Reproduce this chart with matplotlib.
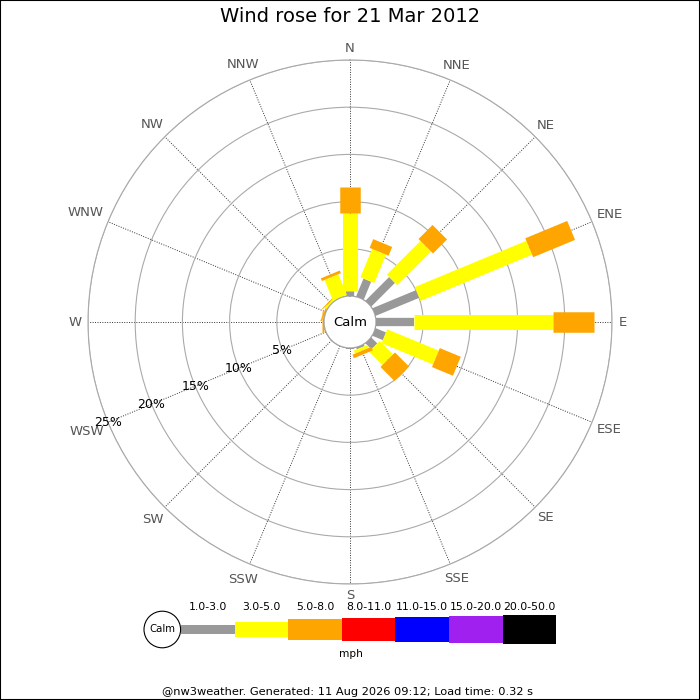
import numpy as np
import matplotlib.pyplot as plt
from matplotlib.patches import Circle, Rectangle

# wind direction sectors
directions = ['N', 'NNE', 'NE', 'ENE', 'E', 'ESE', 'SE', 'SSE',
              'S', 'SSW', 'SW', 'WSW', 'W', 'WNW', 'NW', 'NNW']

# % of time in each speed band (mph), per direction
speed_1_3 = [0.55, 2.05, 3.55, 5.0, 4.0, 1.2, 0.9, 0.2, 0.1, 0, 0, 0, 0, 0, 0, 0]
speed_3_5 = [8.25, 3.25, 5.05, 12.8, 14.7, 5.9, 2.0, 0.35, 0, 0, 0, 0, 0.05, 0.05, 0.25, 2.4]
speed_5_8 = [2.7, 1.0, 2.1, 4.8, 4.4, 2.4, 2.1, 0.4, 0, 0, 0, 0, 0.15, 0.15, 0.1, 0.3]

band_labels = ['1.0-3.0', '3.0-5.0', '5.0-8.0', '8.0-11.0', '11.0-15.0', '15.0-20.0', '20.0-50.0']
band_colors = ['#999999', '#ffff00', '#ffa500', '#ff0000', '#0000ff', '#a020f0', '#000000']
band_px = [8.3, 15, 20.5, 23, 25, 26.7, 28.3]  # bar thickness in pixels

ring_ticks = [5, 10, 15, 20, 25]

PX = 72 / 100  # pixel -> point

fig = plt.figure(figsize=(7, 7), dpi=100)

# polar axes: centre at (350, 322) px, outer ring radius 262 px
ax = fig.add_axes([88 / 700, 116 / 700, 524 / 700, 524 / 700], projection='polar')
ax.set_theta_zero_location('N')
ax.set_theta_direction(-1)
ax.set_rorigin(-2.75)
ax.set_ylim(0, 25)
scale = 262 / (25 + 2.75)  # px per %

theta = np.deg2rad(np.arange(16) * 22.5)
ax.set_xticks(theta)
ax.set_xticklabels([])
ax.set_yticks(ring_ticks)
ax.set_yticklabels([])
ax.grid(axis='y', color='#aaaaaa', lw=0.8, ls='-')
ax.grid(axis='x', color='#333333', lw=0.7, ls=(0, (1, 1.5)))
ax.spines['polar'].set_color('#aaaaaa')
ax.spines['polar'].set_linewidth(0.8)
ax.spines['inner'].set_color('#999999')
ax.spines['inner'].set_linewidth(0.8)

# stacked bars as thick radial lines
for i in range(len(directions)):
    base = 0
    for vals, col, w in zip([speed_1_3, speed_3_5, speed_5_8], band_colors, band_px):
        v = vals[i]
        if v > 0:
            ax.plot([theta[i], theta[i]], [base, base + v], color=col, lw=w * PX,
                    solid_capstyle='butt', zorder=3)
        base += v

# calm circle
ax.add_patch(Circle((0.5, 0.5), 26 / 524, transform=ax.transAxes, fc='white',
                    ec='#999999', lw=0.8, zorder=4))
ax.text(0.5, 0.5, 'Calm', transform=ax.transAxes, ha='center', va='center',
        fontsize=9.5, zorder=5)

# direction labels around the outside
renderer = fig.canvas.get_renderer()
for th, lab in zip(theta, directions):
    t = ax.text(th, 25, lab, ha='center', va='center', fontsize=9.5, color='#555555')
    bb = t.get_window_extent(renderer)
    extra = bb.width / 2 * abs(np.sin(th)) + 5 * np.cos(th) ** 2
    t.set_position((th, 25 + (6.5 + extra) / scale))

# percentage labels along WSW
for v in ring_ticks:
    ax.text(np.deg2rad(247.5), v, f'{v}%', ha='center', va='center', fontsize=9, zorder=5)

fig.text(0.5, 1 - 17 / 700, 'Wind rose for 21 Mar 2012', ha='center', va='center', fontsize=14)

# legend in pixel coordinates
lax = fig.add_axes([0, 0, 1, 1])
lax.set_xlim(0, 700)
lax.set_ylim(700, 0)
lax.axis('off')
lax.patch.set_visible(False)

seg_w = 53.6
x0 = 181
yc = 629.5
for k, (lab, col, h) in enumerate(zip(band_labels, band_colors, band_px)):
    lax.bar(x0 + k * seg_w, h, width=seg_w, bottom=yc - h / 2, align='edge',
            color=col, lw=0)
    lax.text(x0 + (k + 0.5) * seg_w, 607, lab, ha='center', va='center', fontsize=7.8)
lax.add_patch(Circle((162.3, yc), 18.3, fc='white', ec='black', lw=0.8, zorder=4))
lax.text(162.3, yc, 'Calm', ha='center', va='center', fontsize=7.3, zorder=5)
lax.text(350.8, 654, 'mph', ha='center', va='center', fontsize=7.6)

lax.text(347, 692, '@nw3weather. Generated: 11 Aug 2026 09:12; Load time: 0.32 s',
         ha='center', va='center', fontsize=8.2)

# image border
fig.patches.append(Rectangle((0, 0), 1, 1, transform=fig.transFigure, fill=False,
                             ec='black', lw=1.5))

fig.savefig('out.png', dpi=100)
